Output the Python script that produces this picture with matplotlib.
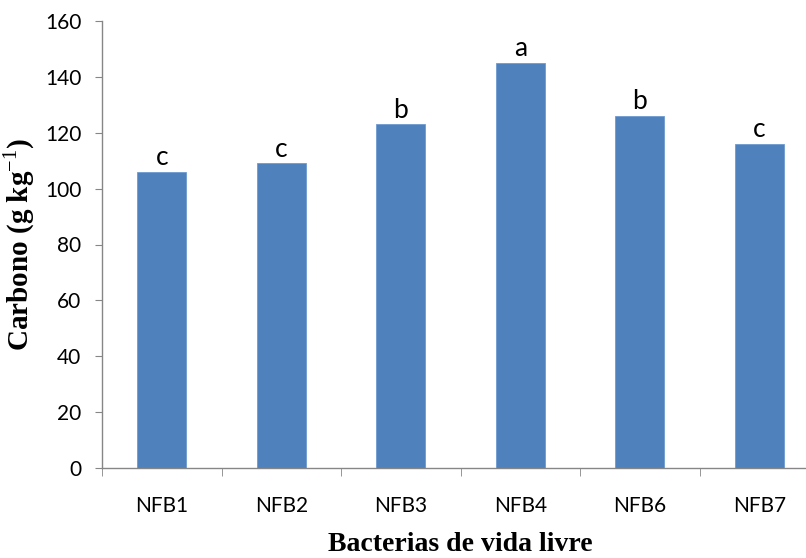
import numpy as np
import matplotlib.pyplot as plt

# dados
categorias = ['NFB1', 'NFB2', 'NFB3', 'NFB4', 'NFB6', 'NFB7']
carbono = [106, 109, 123, 145, 126, 116]
letras = ['c', 'c', 'b', 'a', 'b', 'c']
y_ticks = [0, 20, 40, 60, 80, 100, 120, 140, 160]

cor_barra = '#4F81BD'
cinza = '#868686'

plt.rcParams['mathtext.fontset'] = 'custom'
plt.rcParams['mathtext.rm'] = 'Liberation Serif'
plt.rcParams['mathtext.bf'] = 'Liberation Serif:bold'

fig = plt.figure(figsize=(8.06, 5.58), dpi=100)
# eixo passa da borda direita, como no original (cortado)
ax = fig.add_axes([102/806, 90/558, 717/806, 447/558])

x = np.arange(len(categorias))
ax.bar(x, carbono, width=0.41, color=cor_barra, edgecolor='#6E9BD1', linewidth=0.6, zorder=2)

for xi, v, l in zip(x, carbono, letras):
    ax.text(xi, v + 2.4, l, ha='center', va='baseline', fontsize=19, family='Lato')

ax.set_xlim(-0.5, len(categorias) - 0.5)
ax.set_ylim(0, 160)
ax.set_yticks(y_ticks)
ax.set_xticks(x)
ax.set_xticklabels(categorias)
ax.set_xticks(np.arange(-0.5, len(categorias)), minor=True)

ax.spines['top'].set_visible(False)
ax.spines['right'].set_visible(False)
for s in ['left', 'bottom']:
    ax.spines[s].set_color(cinza)
    ax.spines[s].set_linewidth(1)

ax.tick_params(axis='y', direction='out', length=5, color=cinza, labelsize=15, pad=10)
ax.tick_params(axis='x', which='major', length=0, labelsize=15, pad=20)
ax.tick_params(axis='x', which='minor', direction='out', length=6, color=cinza)
for lab in ax.get_xticklabels() + ax.get_yticklabels():
    lab.set_family('Lato')

ax.set_ylabel('Carbono (g kg$^{\\mathrm{-1}}$)', fontsize=21, fontweight='bold',
              family='Liberation Serif')
ax.yaxis.set_label_coords(-(102 - 37) / 717, 0.5)
ax.set_xlabel('Bacterias de vida livre', fontsize=20, fontweight='bold',
              family='Liberation Serif')
ax.xaxis.set_label_coords(0.5, -64 / 447)

fig.savefig('out.png', dpi=100)
